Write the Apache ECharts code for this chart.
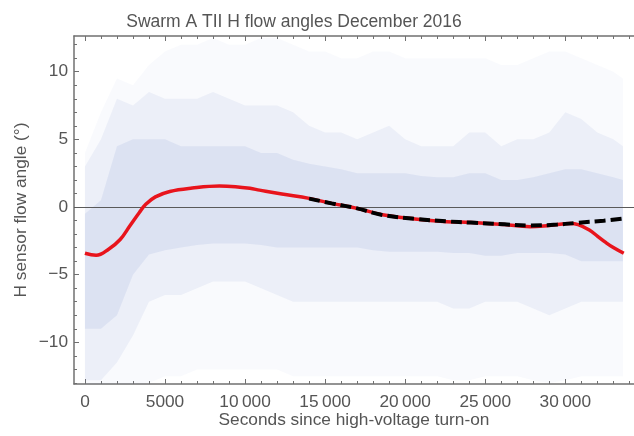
<!DOCTYPE html>
<html><head><meta charset="utf-8">
<script src="https://cdn.jsdelivr.net/npm/echarts@6/dist/echarts.min.js"></script>
<style>html,body{margin:0;padding:0;background:#fff}#c{width:634px;height:436px}</style>
</head><body><div id="c"></div>
<script>
// ---- text ----
const titleText = 'Swarm A TII H flow angles December 2016';
const xName = 'Seconds since high-voltage turn-on';
const yName = 'H sensor flow angle (°)';

// ---- ticks ----
const xMajorTicks = [0, 5000, 10000, 15000, 20000, 25000, 30000];
const xTickLabels = ['0', '5000', '10\u2009000', '15\u2009000', '20\u2009000', '25\u2009000', '30\u2009000'];
const xMinorTicks = [1000, 2000, 3000, 4000, 6000, 7000, 8000, 9000, 11000, 12000, 13000, 14000, 16000, 17000, 18000, 19000, 21000, 22000, 23000, 24000, 26000, 27000, 28000, 29000, 31000, 32000, 33000, 34000];
const yMajorTicks = [-10, -5, 0, 5, 10];
const yTickLabels = ['\u221210', '\u22125', '0', '5', '10'];
const yMinorTicks = [-13, -12, -11, -9, -8, -7, -6, -4, -3, -2, -1, 1, 2, 3, 4, 6, 7, 8, 9, 11, 12];

// ---- red smooth fit ----
const redX = [0, 700, 1500, 2200, 2800, 3400, 3800, 4400, 5300, 6700, 8400, 9400, 10300, 10900, 12300, 14000, 15400, 17000, 18500, 20600, 22600, 24100, 26200, 27800, 29000, 30300, 30800, 31500, 32000, 32500, 33000, 33650];
const redY = [-3.42, -3.57, -3.1, -2.4, -1.4, -0.4, 0.2, 0.75, 1.15, 1.4, 1.55, 1.5, 1.38, 1.25, 0.96, 0.64, 0.27, -0.1, -0.55, -0.88, -1.08, -1.14, -1.3, -1.45, -1.36, -1.22, -1.3, -1.7, -2.15, -2.6, -3.0, -3.42];

// ---- black dashed fit ----
const blackX = [14000, 15400, 17000, 18500, 20600, 22600, 24100, 26200, 27800, 29500, 30700, 32400, 33650];
const blackY = [0.62, 0.27, -0.1, -0.57, -0.88, -1.06, -1.15, -1.28, -1.36, -1.3, -1.17, -1.01, -0.84];

// ---- point cloud density envelopes ----
const bandX   = [0, 1000, 2000, 3000, 4000, 5000, 6000, 7000, 8000, 9000, 10000, 11000, 12000, 13000, 14000, 15000, 16000, 17000, 18000, 19000, 20000, 21000, 22000, 23000, 24000, 25000, 26000, 27000, 28000, 29000, 30000, 31000, 32000, 33000, 33600];
const outerHi = [4, 7, 9.5, 9, 10.5, 11.5, 12, 12, 12.5, 12, 12, 12.5, 12.5, 12, 11.5, 11.5, 11, 11, 11.5, 11.5, 11, 11, 11, 11, 11, 11, 10.5, 10.5, 11, 11.5, 11.5, 11, 10.5, 10, 9.5];
const outerLo = [-13.1, -13.1, -13.1, -13.1, -13, -12.5, -12.5, -12, -12, -12, -12, -12, -12, -12.5, -12.5, -12.5, -12.5, -12.5, -12.5, -12.5, -12.5, -12.5, -12.5, -12.8, -12.8, -12.5, -12.5, -12.5, -12.8, -13, -12.8, -12.5, -12.5, -12.5, -12.5];
const midHi   = [3, 5, 8, 7.5, 8.5, 8, 8, 8, 8.5, 8, 7.5, 7.5, 7.5, 7, 6, 5.5, 5.5, 5, 5.5, 6, 5, 4.5, 4.5, 4.5, 5.5, 5.5, 4.5, 5, 5, 5.5, 7, 6.5, 5.5, 5, 4.5];
const midLo   = [-12.8, -12.8, -11.5, -9.5, -7, -6.5, -6.5, -6, -5.5, -5.5, -5.5, -6, -6.5, -7, -7, -7, -7, -7, -7, -7, -7, -7, -7, -7.5, -7.5, -7, -7, -7, -7.5, -8, -7.5, -7, -7, -7, -7];
const coreHi  = [-0.5, 0.5, 4.5, 5, 5, 5, 4.5, 4.5, 4.5, 4.5, 4.5, 4, 4, 3.5, 3.2, 3, 2.8, 2.5, 2.5, 2.5, 2.5, 2.3, 2.2, 2.2, 2.5, 2.5, 2, 2, 2.2, 2.5, 2.8, 2.8, 2.5, 2.2, 2];
const coreLo  = [-9, -9, -8, -5, -3.5, -3.2, -3, -2.8, -2.7, -2.7, -2.7, -2.8, -3, -3, -3, -3, -3, -3, -3.2, -3.3, -3.3, -3.3, -3.3, -3.4, -3.4, -3.6, -3.6, -3.4, -3.4, -3.4, -3.5, -4, -4, -4, -4];

const X_MIN = -683, X_MAX = 34290, Y_MIN = -13.08, Y_MAX = 12.64;
const FONT = '"Liberation Sans", Arial, Helvetica, sans-serif';
const FS = 17.3;
const frameColor = '#707070';
const textColor = '#555555';

function xAx(pos, ticks, len, showLine, withLabels) {
  return {
    type: 'value', position: pos, min: X_MIN, max: X_MAX,
    axisLine: { show: showLine, onZero: false, lineStyle: { color: frameColor, width: 1.5 } },
    axisTick: { show: true, inside: true, length: len, customValues: ticks, lineStyle: { color: frameColor, width: 1 } },
    axisLabel: withLabels ? {
      show: true, customValues: ticks, margin: 10, color: textColor, fontSize: FS, fontFamily: FONT,
      formatter: v => xTickLabels[xMajorTicks.indexOf(v)]
    } : { show: false },
    splitLine: { show: false }, minorTick: { show: false },
    name: withLabels ? xName : '', nameLocation: 'middle', nameGap: 28, nameMoveOverlap: false,
    nameTextStyle: { color: textColor, fontSize: FS, fontFamily: FONT }
  };
}
function yAx(ticks, len, showLine, withLabels) {
  return {
    type: 'value', position: 'left', min: Y_MIN, max: Y_MAX,
    axisLine: { show: showLine, onZero: false, lineStyle: { color: frameColor, width: 1.5 } },
    axisTick: { show: true, inside: true, length: len, customValues: ticks, lineStyle: { color: frameColor, width: 1 } },
    axisLabel: withLabels ? {
      show: true, customValues: ticks, margin: 6, color: textColor, fontSize: FS, fontFamily: FONT,
      formatter: v => yTickLabels[yMajorTicks.indexOf(v)]
    } : { show: false },
    splitLine: { show: false }, minorTick: { show: false },
    name: withLabels ? yName : '', nameLocation: 'middle', nameGap: 44, nameRotate: 90, nameMoveOverlap: false,
    nameTextStyle: { color: textColor, fontSize: FS, fontFamily: FONT }
  };
}

const bandColor = 'rgb(72,100,185)';
function band(key, lo, hi, alpha) {
  return {
    type: 'custom', name: key, silent: true, z: 1, clip: true,
    data: bandX.map((x, i) => [x, lo[i], hi[i]]),
    encode: { x: 0, y: [1, 2] },
    renderItem: function (params, api) {
      if (params.dataIndex !== 0) return null;
      const pts = [];
      for (let i = 0; i < bandX.length; i++) pts.push(api.coord([bandX[i], hi[i]]));
      for (let i = bandX.length - 1; i >= 0; i--) pts.push(api.coord([bandX[i], lo[i]]));
      return { type: 'polygon', shape: { points: pts }, style: { fill: bandColor, opacity: alpha } };
    }
  };
}

const chart = echarts.init(document.getElementById('c'), null, { renderer: 'canvas' });
chart.setOption({
  animation: false,
  backgroundColor: '#ffffff',
  grid: { left: 74, top: 36, width: 563, height: 348, containLabel: false },
  xAxis: [
    xAx('bottom', xMajorTicks, 5, true, true),
    xAx('bottom', xMinorTicks, 3, false, false),
    xAx('top', xMajorTicks, 5, true, false),
    xAx('top', xMinorTicks, 3, false, false)
  ],
  yAxis: [
    yAx(yMajorTicks, 5, true, true),
    yAx(yMinorTicks, 3, false, false)
  ],
  graphic: [{
    type: 'text', x: 294, y: 22.5, silent: true,
    style: { text: titleText, textAlign: 'center', textVerticalAlign: 'middle', fill: textColor, font: '17.5px ' + FONT }
  }],
  series: [
    band('outer', outerLo, outerHi, 0.035),
    band('mid', midLo, midHi, 0.07),
    band('core', coreLo, coreHi, 0.09),
    {
      type: 'line', name: 'zero', data: [], symbol: 'none', z: 2,
      markLine: { silent: true, symbol: 'none', label: { show: false },
        lineStyle: { color: '#5a5a5a', width: 1, type: 'solid' }, data: [{ yAxis: 0 }] }
    },
    {
      type: 'line', name: 'fit', data: redX.map((x, i) => [x, redY[i]]), smooth: 0.4,
      symbol: 'none', lineStyle: { color: '#e8141c', width: 3.5 }, z: 5
    },
    {
      type: 'line', name: 'fit2', data: blackX.map((x, i) => [x, blackY[i]]), smooth: 0.4,
      symbol: 'none', lineStyle: { color: '#000000', width: 4, type: [11, 5] }, z: 6
    }
  ]
});
</script></body></html>
